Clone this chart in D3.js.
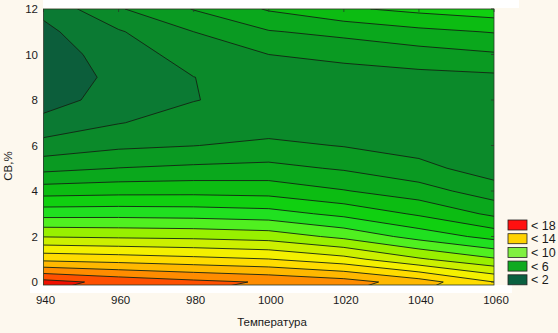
<!DOCTYPE html>
<html><head><meta charset="utf-8">
<script src="https://cdn.jsdelivr.net/npm/d3@7"></script>
<style>
body{margin:0;background:#fdf8ee;}
svg{display:block;font-family:"Liberation Sans",Arial,sans-serif;}
</style>
</head><body>
<svg id="chart" width="558" height="333"></svg>
<script>
// ---- data ----
const temperatures = [940, 960, 980, 1000, 1020, 1040, 1060];   // grid columns
const cbPercent   = [0, 1, 2, 3, 4, 5, 6, 7, 8, 9, 10, 11, 12];  // grid rows
// estimated response at each (СВ,% row, temperature column)
const row0  = [17.35, 16.71, 16.26, 15.90, 15.45, 14.48, 13.00];
const row1  = [13.74, 13.54, 13.29, 13.03, 12.36, 11.14, 10.13];
const row2  = [10.95, 10.84, 10.75, 10.55, 9.75, 8.62, 7.66];
const row3  = [8.61, 8.64, 8.57, 8.40, 7.73, 6.85, 5.79];
const row4  = [6.54, 6.66, 6.69, 6.61, 6.06, 5.44, 4.45];
const row5  = [4.70, 5.02, 5.19, 5.28, 4.89, 4.30, 3.50];
const row6  = [3.36, 3.80, 3.98, 4.24, 3.95, 3.60, 3.40];
const row7  = [2.32, 2.96, 3.40, 3.45, 3.45, 3.40, 3.35];
const row8  = [1.55, 2.45, 2.97, 3.30, 3.35, 3.40, 3.40];
const row9  = [1.50, 2.20, 2.99, 3.40, 3.55, 3.70, 3.80];
const row10 = [1.50, 2.45, 3.45, 4.00, 4.28, 4.57, 4.88];
const row11 = [1.75, 2.90, 4.00, 4.93, 5.27, 5.74, 6.06];
const row12 = [2.25, 3.90, 5.05, 6.10, 6.85, 7.27, 7.60];
const zRows = [row0,row1,row2,row3,row4,row5,row6,row7,row8,row9,row10,row11,row12];
const levels = [2,3,4,5,6,7,8,9,10,11,12,13,14,15,16,17];
const xTicks = [940, 960, 980, 1000, 1020, 1040, 1060];
const yTicks = [0, 2, 4, 6, 8, 10, 12];
const legendLabels = ["< 18", "< 14", "< 10", "< 6", "< 2"];
const xTitle = "Температура";
const yTitle = "СВ,%";

// ---- styles ----
const bandColors = ["#0c5e3b","#0b7a33","#0b8a2a","#0a9a22","#0aa81c","#0cbc12","#10d010",
  "#20e020","#50f020","#98f000","#ccf000","#f4f000","#ffdc00","#ffb800","#ff8c00","#ff5000","#f01000"];
const legendColors = ["#ff1010","#ffd200","#80f040","#10aa20","#0a6040"];

const svg = d3.select("#chart");
const L = 43.5, R = 494, T = 9, B = 282, BOT = 285;
const x = d3.scaleLinear().domain([940, 1060]).range([L, R]);
const y = d3.scaleLinear().domain([0, 12]).range([B, T]);

// background patches
svg.append("rect").attr("x",0).attr("y",0).attr("width",558).attr("height",333).attr("fill","#fdf8ee");
svg.append("rect").attr("x",43).attr("y",0).attr("width",476).attr("height",8).attr("fill","#ffffff");
svg.append("rect").attr("x",30).attr("y",285).attr("width",482).attr("height",8).attr("fill","#ffffff");

const nx = temperatures.length, ny = cbPercent.length;
const values = [];
zRows.forEach(r => r.forEach(v => values.push(v)));
const contours = d3.contours().size([nx, ny]).thresholds(levels)(values);

const gx = d3.scaleLinear().domain([0.5, nx - 0.5]).range([temperatures[0], temperatures[nx-1]]);
const gy = d3.scaleLinear().domain([0.5, ny - 0.5]).range([cbPercent[0], cbPercent[ny-1]]);
const path = d3.geoPath(d3.geoTransform({
  point(px, py) { this.stream.point(x(gx(px)), y(gy(py))); }
}));

svg.append("clipPath").attr("id","clip").append("rect")
  .attr("x", L).attr("y", T).attr("width", R - L).attr("height", BOT - T);

const g = svg.append("g").attr("clip-path","url(#clip)");
g.append("rect").attr("x", L).attr("y", T).attr("width", R - L).attr("height", BOT - T)
  .attr("fill", bandColors[0]);
g.selectAll("path.band").data(contours).join("path").attr("class","band")
  .attr("d", path).attr("fill", (d, i) => bandColors[i + 1]).attr("stroke","none");
g.selectAll("path.line").data(contours).join("path").attr("class","line")
  .attr("d", path).attr("fill","none").attr("stroke","#142414").attr("stroke-width",0.9);

// frame
svg.append("rect").attr("x", L).attr("y", T).attr("width", R - L).attr("height", BOT - T)
  .attr("fill","none").attr("stroke","#2a3a2a").attr("stroke-width",0.8);

// inward ticks
const tk = svg.append("g").attr("stroke","#2a3a2a").attr("stroke-width",0.8);
xTicks.forEach(v => {
  tk.append("line").attr("x1",x(v)).attr("x2",x(v)).attr("y1",T).attr("y2",T+3);
});
yTicks.forEach(v => {
  tk.append("line").attr("x1",R).attr("x2",R-3).attr("y1",y(v)).attr("y2",y(v));
});

// axes labels
const ax = svg.append("g").attr("font-size", 11.5).attr("fill","#1a1a1a");
xTicks.forEach(v => {
  ax.append("text").attr("x", x(v) + 2).attr("y", 304).attr("text-anchor","middle").text(v);
});
yTicks.forEach(v => {
  ax.append("text").attr("x", 38).attr("y", y(v) + 4).attr("text-anchor","end").text(v);
});
ax.append("text").attr("x", 272).attr("y", 326).attr("text-anchor","middle").attr("font-size",11.5).text(xTitle);
ax.append("text").attr("transform","translate(12,166) rotate(-90)").attr("text-anchor","middle")
  .attr("font-size",11.5).text(yTitle);

// legend
const lg = svg.append("g");
legendLabels.forEach((lab, i) => {
  const yy = 220 + i * 13.7;
  lg.append("rect").attr("x", 508).attr("y", yy).attr("width", 19).attr("height", 10)
    .attr("fill", legendColors[i]).attr("stroke","#222").attr("stroke-width",0.8);
  lg.append("text").attr("x", 531).attr("y", yy + 9.5).attr("font-size", 12.5).attr("fill","#1a1a1a").text(lab);
});
</script>
</body></html>
